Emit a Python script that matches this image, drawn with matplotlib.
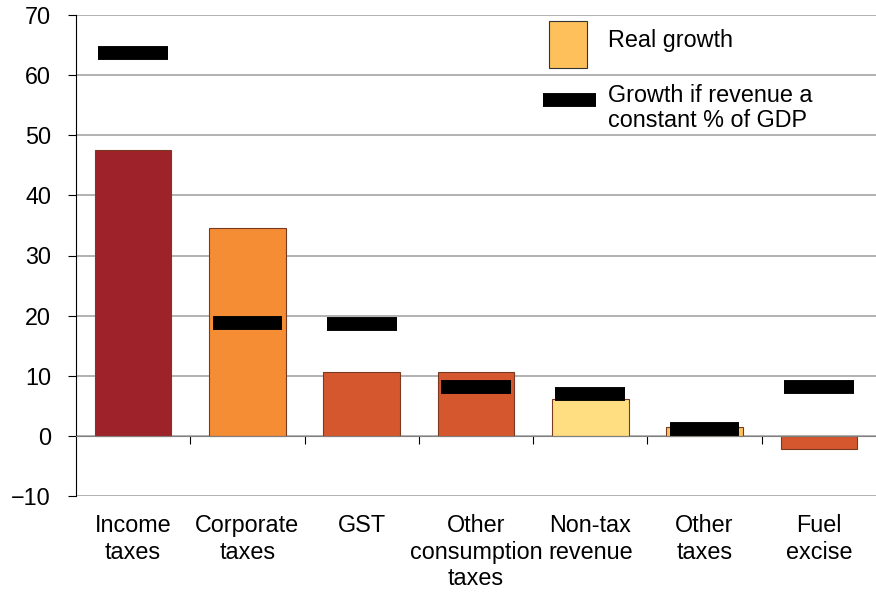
import matplotlib.pyplot as plt
from matplotlib.patches import Rectangle
from matplotlib.lines import Line2D
from matplotlib import transforms

plt.rcParams['font.family'] = ['Liberation Sans', 'DejaVu Sans']

categories = ['Income\ntaxes', 'Corporate\ntaxes', 'GST', 'Other\nconsumption\ntaxes',
              'Non-tax\nrevenue', 'Other\ntaxes', 'Fuel\nexcise']
real_growth = [47.6, 34.6, 10.6, 10.6, 6.2, 1.5, -2.2]
constant_gdp = [63.6, 18.8, 18.6, 8.1, 7.0, 1.1, 8.1]
bar_colors = ['#9E2229', '#F58D35', '#D4572E', '#D4572E', '#FEDE80', '#FDC05A', '#D4572E']

fs = 16.8
fig = plt.figure(figsize=(8.76, 5.92), dpi=100)
ax = fig.add_axes([76 / 876, 96 / 592, 800 / 876, 481 / 592])

x = [i + 0.5 for i in range(len(categories))]
ax.set_axisbelow(True)
ax.bar(x, real_growth, width=0.67, color=bar_colors, edgecolor='#7a3a22', linewidth=0.8, zorder=2)
ax.hlines(constant_gdp, [v - 0.305 for v in x], [v + 0.305 for v in x],
          colors='black', linewidth=10, capstyle='butt', zorder=3)

ax.set_xlim(0, len(categories))
ax.set_ylim(-10, 70)
ax.set_yticks(range(-10, 71, 10))
ax.yaxis.grid(True, color='#a6a6a6', linewidth=1.2)
ax.tick_params(axis='y', labelsize=fs, length=6, pad=12, color='black')

ax.spines['top'].set_visible(False)
ax.spines['right'].set_visible(False)
ax.spines['left'].set_color('black')
ax.spines['bottom'].set_position(('data', 0))
ax.spines['bottom'].set_color('#808080')
ax.set_xticks(range(1, len(categories)))
ax.set_xticklabels([])
ax.tick_params(axis='x', length=6, color='black')

trans = transforms.blended_transform_factory(ax.transData, ax.transAxes)
for xi, lab in zip(x, categories):
    ax.text(xi, -0.038, lab, transform=trans, ha='center', va='top', fontsize=fs, linespacing=1.2)

# legend drawn by hand to match the layout
fig.add_artist(Rectangle((549 / 876, 1 - 68 / 592), 38 / 876, 47 / 592,
                         transform=fig.transFigure, facecolor='#FDC05A', edgecolor='#333333', linewidth=0.8))
fig.text(608 / 876, 1 - 40 / 592, 'Real growth', fontsize=fs, va='center', ha='left')
fig.add_artist(Line2D([543 / 876, 596 / 876], [1 - 100 / 592, 1 - 100 / 592],
                      transform=fig.transFigure, color='black', linewidth=10, solid_capstyle='butt'))
fig.text(608 / 876, 1 - 108 / 592, 'Growth if revenue a\nconstant % of GDP', fontsize=fs,
         va='center', ha='left', linespacing=1.15)

fig.savefig('out.png')
